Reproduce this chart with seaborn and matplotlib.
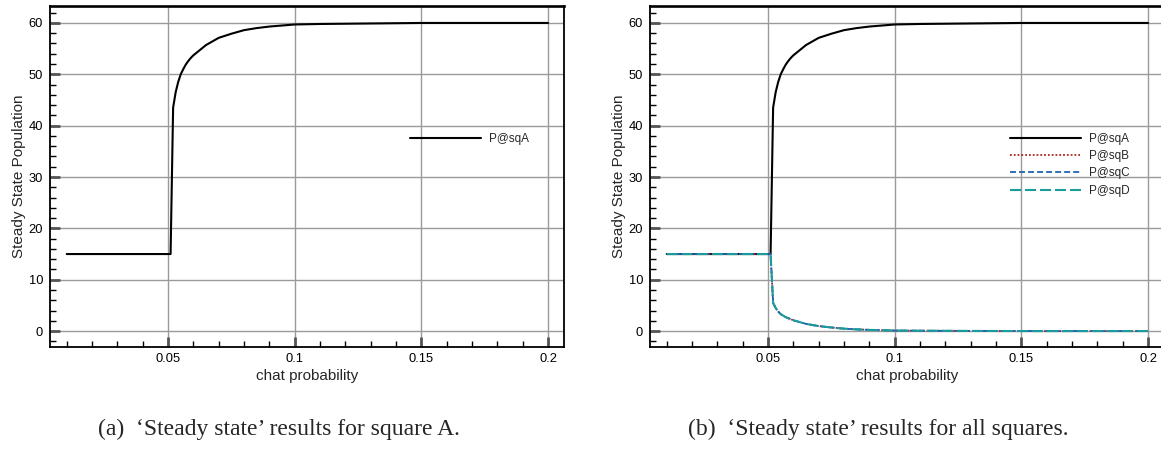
import numpy as np
import pandas as pd
import matplotlib
matplotlib.use("Agg")
import matplotlib.pyplot as plt
from matplotlib.ticker import MultipleLocator, FixedLocator
import seaborn as sns

# ---- data ----
chat_prob = [0.01, 0.02, 0.03, 0.04, 0.05, 0.051, 0.052, 0.053, 0.054, 0.055,
             0.056, 0.057, 0.058, 0.059, 0.06, 0.065, 0.07, 0.075, 0.08, 0.085,
             0.09, 0.095, 0.1, 0.11, 0.12, 0.13, 0.14, 0.15, 0.16, 0.17,
             0.18, 0.19, 0.2]
pop_sqA = [15, 15, 15, 15, 15, 15, 43.5, 46.5, 48.5, 50.0,
           51.0, 51.9, 52.6, 53.2, 53.7, 55.7, 57.1, 57.9, 58.6, 59.0,
           59.3, 59.5, 59.7, 59.8, 59.85, 59.9, 59.95, 60, 60, 60,
           60, 60, 60]
pop_sqB = [15, 15, 15, 15, 15, 15, 5.5, 4.5, 3.8, 3.3,
           3.0, 2.7, 2.5, 2.3, 2.1, 1.4, 0.97, 0.7, 0.47, 0.33,
           0.23, 0.17, 0.1, 0.07, 0.05, 0.03, 0.02, 0, 0, 0,
           0, 0, 0]
pop_sqC = [15, 15, 15, 15, 15, 15, 5.5, 4.5, 3.8, 3.3,
           3.0, 2.7, 2.5, 2.3, 2.1, 1.4, 0.97, 0.7, 0.47, 0.33,
           0.23, 0.17, 0.1, 0.07, 0.05, 0.03, 0.02, 0, 0, 0,
           0, 0, 0]
pop_sqD = [15, 15, 15, 15, 15, 15, 5.5, 4.5, 3.8, 3.3,
           3.0, 2.7, 2.5, 2.3, 2.1, 1.4, 0.97, 0.7, 0.47, 0.33,
           0.23, 0.17, 0.1, 0.07, 0.05, 0.03, 0.02, 0, 0, 0,
           0, 0, 0]
x_ticks = [0.05, 0.1, 0.15, 0.2]
x_tick_labels = ["0.05", "0.1", "0.15", "0.2"]
y_ticks = [0, 10, 20, 30, 40, 50, 60]
series_names = ["P@sqA", "P@sqB", "P@sqC", "P@sqD"]
captions = ["(a)  \u2018Steady state\u2019 results for square A.",
            "(b)  \u2018Steady state\u2019 results for all squares."]

sns.set_theme(style="white")
plt.rcParams["font.family"] = ["Liberation Sans", "DejaVu Sans"]

styles = {
    "P@sqA": dict(color="black", linestyle="-", linewidth=1.5),
    "P@sqB": dict(color="#a8281e", linestyle=(0, (1, 1.1)), linewidth=1.3),
    "P@sqC": dict(color="#1f63b5", linestyle=(0, (3.3, 1.7)), linewidth=1.3),
    "P@sqD": dict(color="#1a9c9c", linestyle=(0, (5.3, 1.9)), linewidth=1.5),
}
data = {"P@sqA": pop_sqA, "P@sqB": pop_sqB, "P@sqC": pop_sqC, "P@sqD": pop_sqD}

fig = plt.figure(figsize=(11.61, 4.59), dpi=100)
ax_a = fig.add_axes([50 / 1161, 1 - 347 / 459, 514 / 1161, 341 / 459])
ax_b = fig.add_axes([650 / 1161, 1 - 347 / 459, 514 / 1161, 341 / 459])

FS = 9.3
LFS = 11

def style_axes(ax):
    ax.set_xlim(0.0034, 0.2063)
    ax.set_ylim(-3.1, 63.3)
    ax.xaxis.set_major_locator(FixedLocator(x_ticks))
    ax.set_xticklabels(x_tick_labels)
    ax.xaxis.set_minor_locator(MultipleLocator(0.01))
    ax.yaxis.set_major_locator(FixedLocator(y_ticks))
    ax.yaxis.set_minor_locator(MultipleLocator(2))
    ax.grid(True, which="major", color="#9a9a9a", linewidth=1.0)
    ax.set_axisbelow(True)
    ax.tick_params(which="major", direction="in", length=7, width=2.0,
                   color="#555555", labelsize=FS, labelcolor="black",
                   bottom=True, left=True, top=False, right=False)
    ax.tick_params(axis="x", which="major", pad=4)
    ax.tick_params(axis="y", which="major", pad=5)
    ax.tick_params(which="minor", direction="in", length=4, width=1.0,
                   color="black", bottom=True, left=True, top=False, right=False)
    for sp in ax.spines.values():
        sp.set_color("black")
        sp.set_linewidth(1.3)
    ax.spines["top"].set_linewidth(1.9)
    ax.set_xlabel("chat probability", fontsize=LFS, labelpad=3)
    ax.set_ylabel("Steady State Population", fontsize=LFS, labelpad=2)

# panel (a)
df_a = pd.DataFrame({"p": chat_prob, "v": pop_sqA})
sns.lineplot(data=df_a, x="p", y="v", ax=ax_a, label="P@sqA", **styles["P@sqA"])
style_axes(ax_a)

# panel (b)
for name in series_names:
    df = pd.DataFrame({"p": chat_prob, "v": data[name]})
    sns.lineplot(data=df, x="p", y="v", ax=ax_b, label=name, **styles[name])
style_axes(ax_b)

for ax in (ax_a, ax_b):
    ax.legend(loc="upper left", bbox_to_anchor=(0.70, 0.628), frameon=False,
              fontsize=8.5, handlelength=6.0, handletextpad=0.7,
              borderpad=0, borderaxespad=0, labelspacing=0.45)

fig.text(279 / 1161, 1 - 429 / 459, captions[0], ha="center", va="center",
         fontsize=17, family=["Liberation Serif", "DejaVu Serif"])
fig.text(878 / 1161, 1 - 429 / 459, captions[1], ha="center", va="center",
         fontsize=17, family=["Liberation Serif", "DejaVu Serif"])

fig.savefig("out.png", dpi=100)
